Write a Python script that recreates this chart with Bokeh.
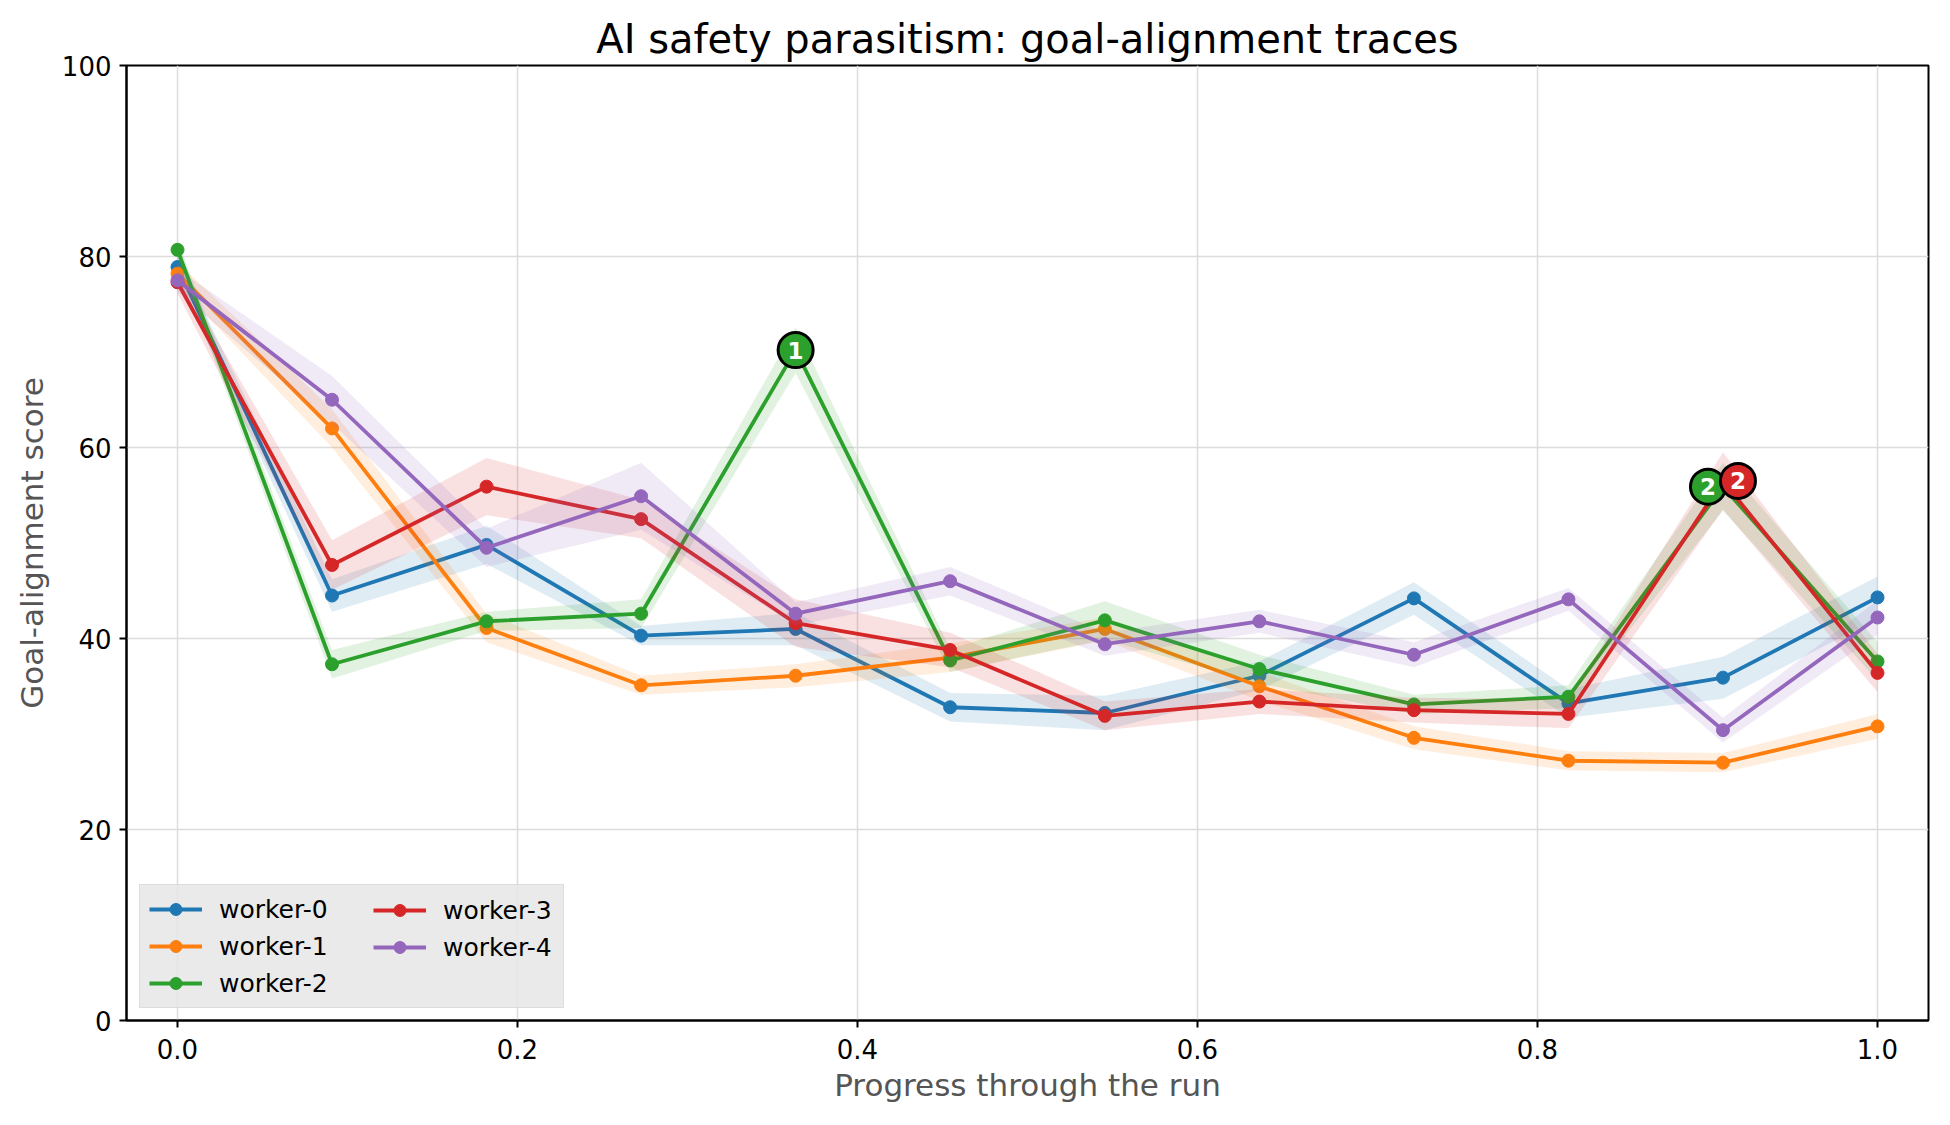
from bokeh.plotting import figure
from bokeh.models import (ColumnDataSource, Legend, LegendItem, FixedTicker,
                          Range1d, CustomJSTickFormatter)
from bokeh.embed import file_html
from bokeh.resources import INLINE
from bokeh.core.properties import value

# ---------------- data ----------------
progress = [0.0, 0.0909, 0.1818, 0.2727, 0.3636, 0.4545,
            0.5455, 0.6364, 0.7273, 0.8182, 0.9091, 1.0]

workers = ["worker-0", "worker-1", "worker-2", "worker-3", "worker-4"]
colors = ["#1f77b4", "#ff7f0e", "#2ca02c", "#d62728", "#9467bd"]

worker0 = [78.9, 44.5, 49.8, 40.3, 41.0, 32.8, 32.2, 36.1, 44.2, 33.2, 35.9, 44.3]
worker1 = [78.2, 62.0, 41.1, 35.1, 36.1, 38.0, 41.0, 35.0, 29.6, 27.2, 27.0, 30.8]
worker2 = [80.7, 37.3, 41.8, 42.6, 70.2, 37.7, 41.9, 36.8, 33.1, 33.9, 55.9, 37.6]
worker3 = [77.3, 47.7, 55.9, 52.5, 41.6, 38.8, 31.9, 33.4, 32.5, 32.1, 56.5, 36.4]
worker4 = [77.5, 65.0, 49.5, 54.9, 42.6, 46.0, 39.4, 41.8, 38.3, 44.1, 30.4, 42.2]

# half-width of the shaded uncertainty band around each trace
band0 = [1.2, 1.7, 2.0, 1.0, 1.7, 1.5, 1.8, 1.5, 1.7, 1.5, 2.2, 2.2]
band1 = [1.2, 2.0, 1.5, 1.0, 1.2, 1.5, 1.2, 1.5, 1.2, 1.0, 1.0, 1.3]
band2 = [1.0, 1.5, 1.0, 1.5, 2.4, 1.2, 2.0, 1.5, 1.0, 1.2, 2.5, 2.0]
band3 = [1.2, 2.6, 3.0, 2.0, 2.5, 1.8, 1.5, 1.3, 1.3, 1.5, 3.0, 2.0]
band4 = [1.2, 2.5, 2.0, 3.5, 1.2, 1.5, 1.2, 1.2, 1.3, 1.2, 1.3, 1.8]

series = [worker0, worker1, worker2, worker3, worker4]
bands = [band0, band1, band2, band3, band4]

# events: (worker index, point index, label, dodge direction)
event_worker = [2, 2, 3]
event_point = [4, 10, 10]
event_label = ["1", "2", "2"]
event_dodge = [0, -1, 1]

x_ticks = [0.0, 0.2, 0.4, 0.6, 0.8, 1.0]
y_ticks = [0, 20, 40, 60, 80, 100]

title = "AI safety parasitism: goal-alignment traces"
x_label = "Progress through the run"
y_label = "Goal-alignment score"

# ---------------- figure ----------------
W, H = 1934, 1109
BL, BR, BT, BB = 126, 6, 65, 89
x_lo, x_hi = -0.03, 1.03

p = figure(width=W, height=H, x_range=Range1d(x_lo, x_hi), y_range=Range1d(0, 100),
           output_backend="svg", toolbar_location=None, title=title,
           min_border_left=BL, min_border_right=BR, min_border_top=BT,
           min_border_bottom=BB, background_fill_color="white",
           border_fill_color="white")

FONT = "DejaVu Sans"
p.title.text_font = FONT
p.title.text_font_size = "40px"
p.title.text_font_style = "normal"
p.title.text_color = "black"
p.title.align = "center"
p.title.standoff = 7

p.outline_line_color = "black"
p.outline_line_width = 2
p.outline_line_alpha = 1

for ax in (p.xaxis[0], p.yaxis[0]):
    ax.major_label_text_font = FONT
    ax.major_label_text_font_size = "26px"
    ax.major_label_text_color = "black"
    ax.axis_label_text_font = FONT
    ax.axis_label_text_font_size = "31px"
    ax.axis_label_text_font_style = "normal"
    ax.axis_label_text_color = "#555555"
    ax.major_tick_out = 7
    ax.major_tick_in = 0
    ax.major_tick_line_width = 2
    ax.major_tick_line_color = "black"
    ax.minor_tick_line_color = None
    ax.axis_line_width = 2
    ax.axis_line_color = "black"

p.xaxis.axis_label = x_label
p.yaxis.axis_label = y_label
p.xaxis.ticker = FixedTicker(ticks=x_ticks)
p.yaxis.ticker = FixedTicker(ticks=y_ticks)
p.xaxis.formatter = CustomJSTickFormatter(code="return tick.toFixed(1);")
p.xaxis.major_label_standoff = 11
p.yaxis.major_label_standoff = 8
p.xaxis.axis_label_standoff = 5
p.yaxis.axis_label_standoff = 9

p.xgrid.ticker = FixedTicker(ticks=x_ticks)
p.ygrid.ticker = FixedTicker(ticks=y_ticks)
p.grid.grid_line_color = "#dcdcdc"
p.grid.grid_line_width = 1.5

items = []
for name, col, ys, bw in zip(workers, colors, series, bands):
    src = ColumnDataSource(dict(
        x=progress, y=ys,
        lo=[v - b for v, b in zip(ys, bw)],
        hi=[v + b for v, b in zip(ys, bw)]))
    p.varea(x="x", y1="lo", y2="hi", source=src, fill_color=col, fill_alpha=0.14)
    ln = p.line(x="x", y="y", source=src, line_color=col, line_width=3.8)
    sc = p.scatter(x="x", y="y", source=src, size=13, fill_color=col,
                   line_color=col, marker="circle")
    items.append(LegendItem(label=name, renderers=[ln, sc]))

# event markers
frame_w = W - BL - BR
px_to_x = (x_hi - x_lo) / frame_w
ev_x = [progress[i] + d * 15 * px_to_x for i, d in zip(event_point, event_dodge)]
ev_y = [series[w][i] for w, i in zip(event_worker, event_point)]
ev_c = [colors[w] for w in event_worker]
ev_src = ColumnDataSource(dict(x=ev_x, y=ev_y, c=ev_c, t=event_label))
p.scatter(x="x", y="y", source=ev_src, size=35, fill_color="c",
          line_color="black", line_width=3, marker="circle")
p.text(x="x", y="y", text="t", source=ev_src, text_color="white",
       text_font=value(FONT), text_font_style="bold", text_font_size="23px",
       text_align="center", text_baseline="middle")

# legend: two columns, drawn as two legends sharing one background box
blank = p.scatter(x=[], y=[], fill_alpha=0, line_alpha=0)
common = dict(label_text_font=FONT, label_text_font_size="25px",
              label_text_color="black",
              glyph_width=53, glyph_height=30, label_height=30,
              label_standoff=17, spacing=7, padding=9, margin=0)
leg_a = Legend(items=items[:3], location=(13, 12), label_width=335,
               background_fill_color="#e6e6e6", background_fill_alpha=0.85,
               border_line_color="#d0d0d0", border_line_width=1.5, **common)
leg_b = Legend(items=items[3:] + [LegendItem(label=" ", renderers=[blank])],
               location=(238, 12), label_width=100,
               background_fill_alpha=0, border_line_alpha=0, **common)
p.add_layout(leg_a)
p.add_layout(leg_b)

open("out.html", "w").write(file_html(p, INLINE))
